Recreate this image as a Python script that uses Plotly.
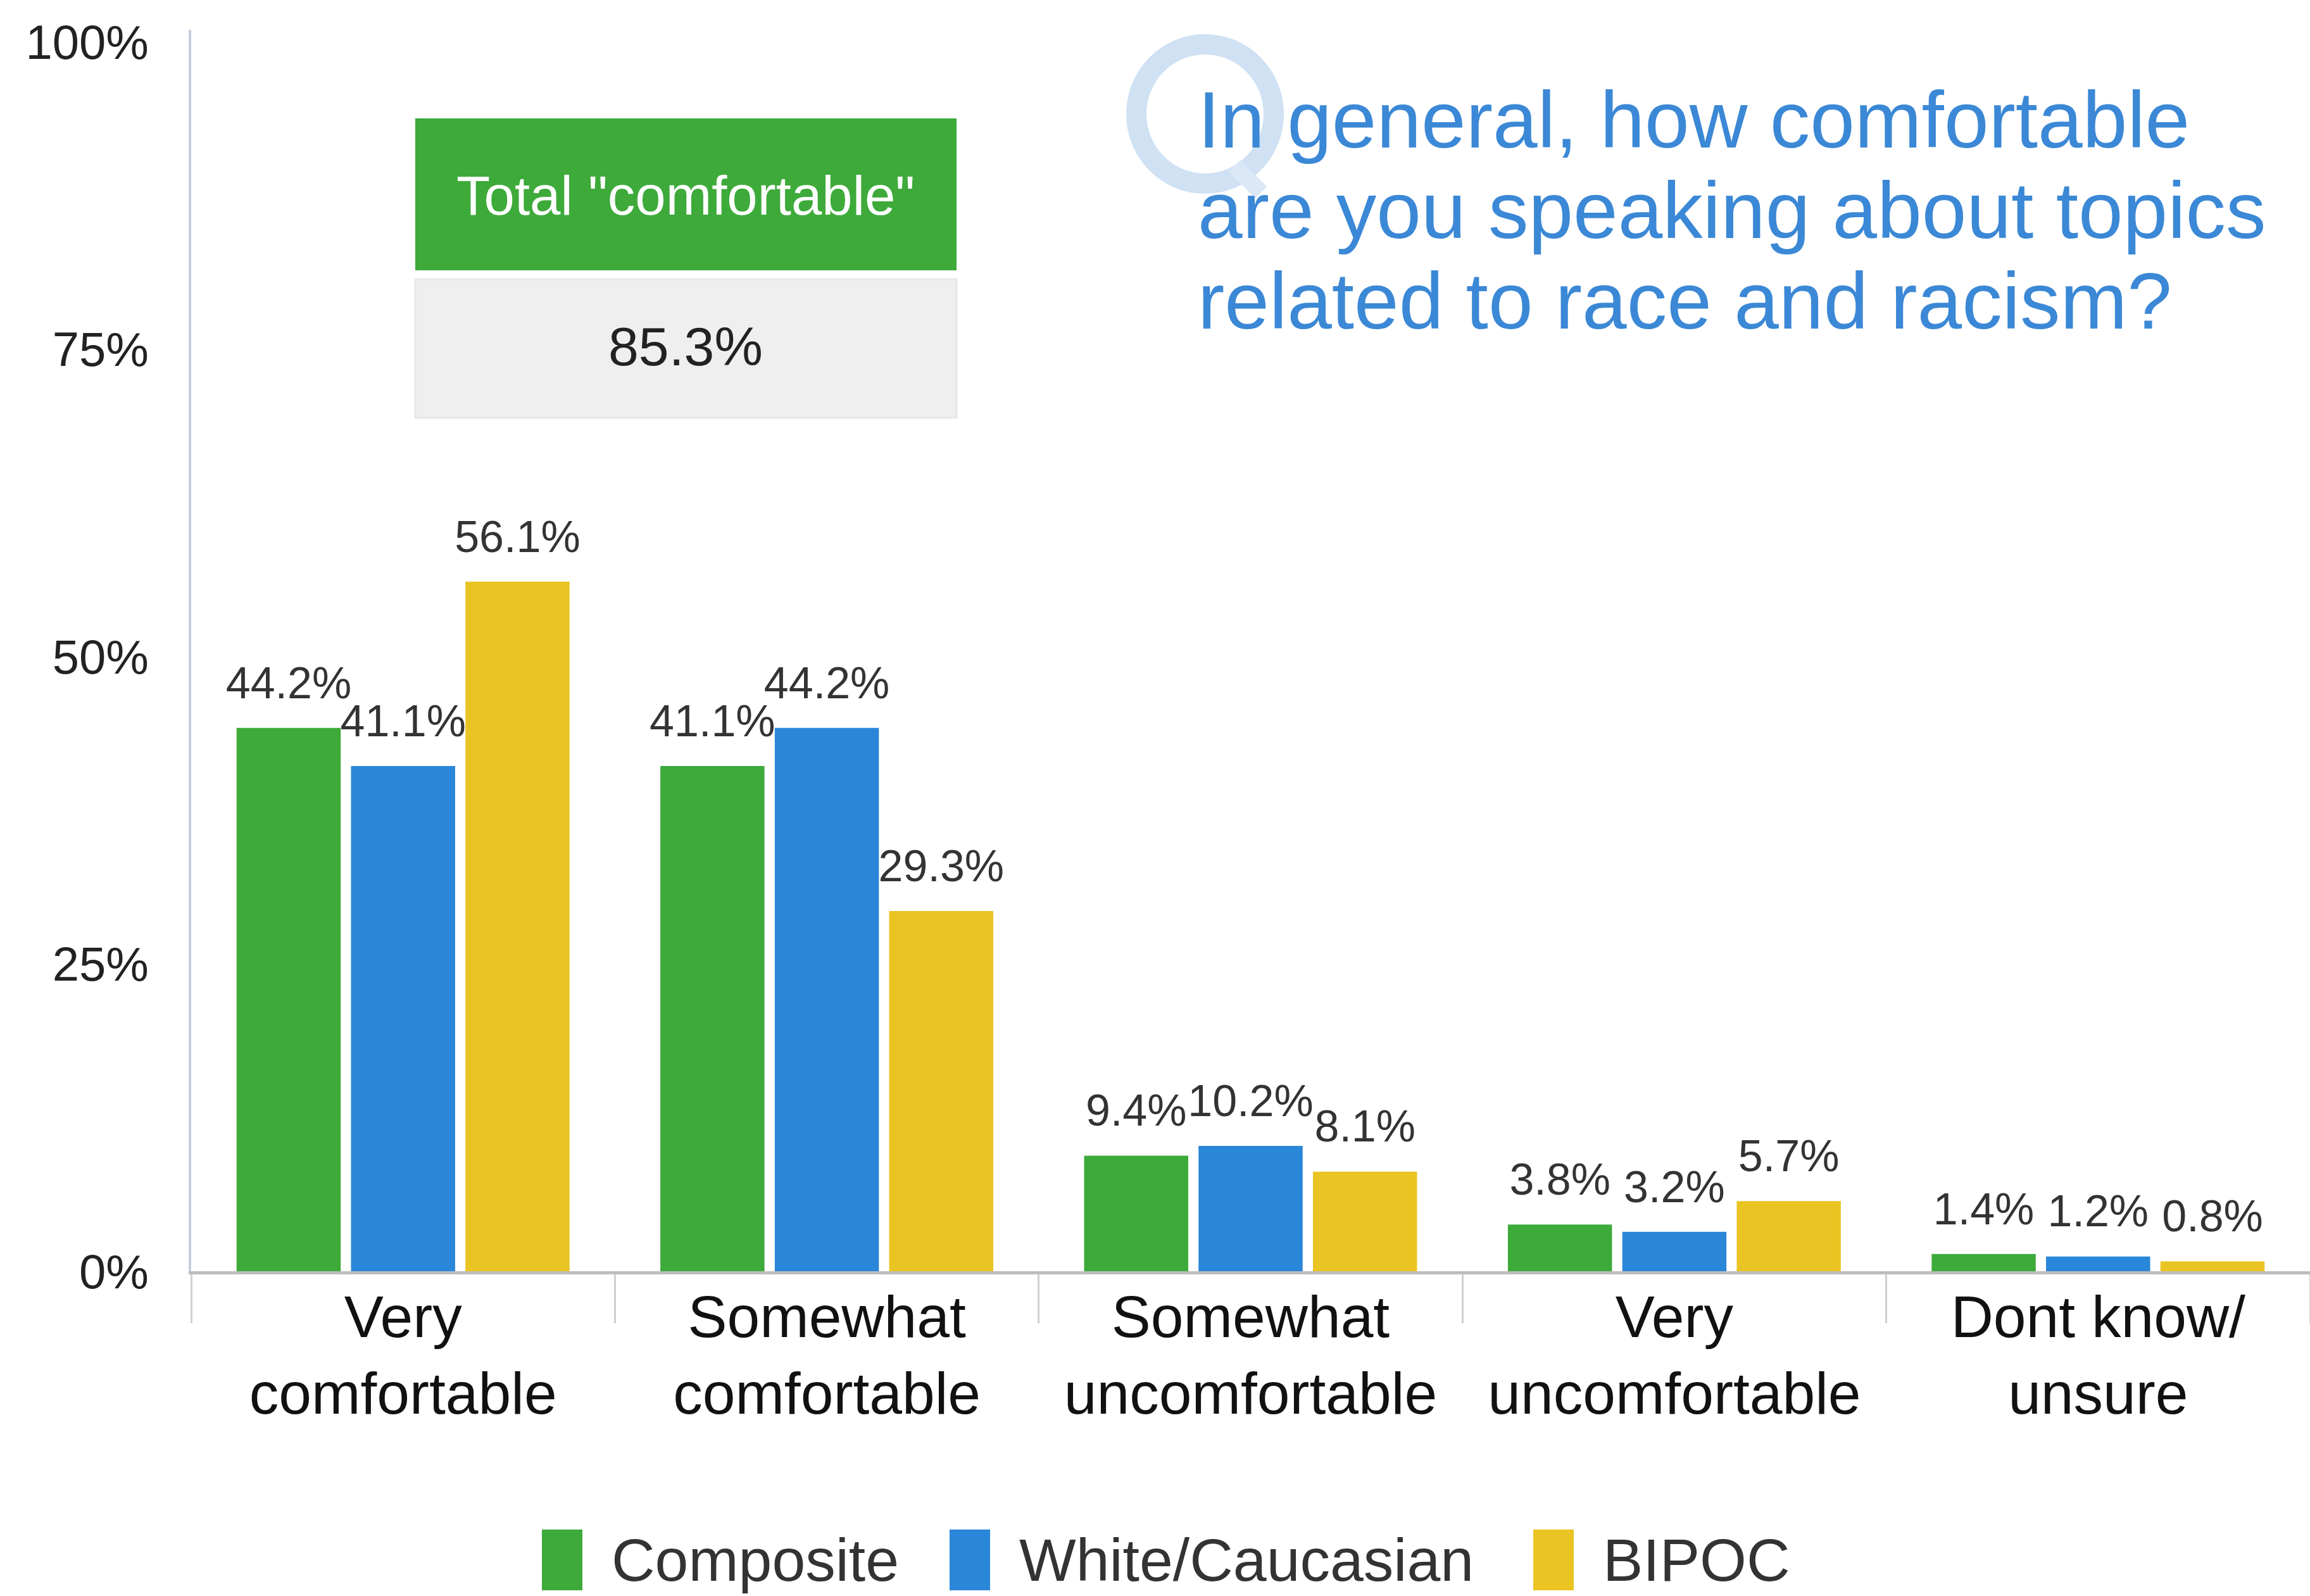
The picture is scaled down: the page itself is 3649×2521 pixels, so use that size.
import plotly.graph_objects as go

# ---- data -------------------------------------------------------------
categories = ["Very comfortable", "Somewhat comfortable", "Somewhat uncomfortable",
              "Very uncomfortable", "Dont know/ unsure"]
tick_labels = ["Very<br>comfortable", "Somewhat<br>comfortable", "Somewhat<br>uncomfortable",
               "Very<br>uncomfortable", "Dont know/<br>unsure"]
series_names = ["Composite", "White/Caucasian", "BIPOC"]
composite = [44.2, 41.1, 9.4, 3.8, 1.4]
white_caucasian = [41.1, 44.2, 10.2, 3.2, 1.2]
bipoc = [56.1, 29.3, 8.1, 5.7, 0.8]
y_tick_values = [0, 25, 50, 75, 100]
y_tick_labels = ["0%", "25%", "50%", "75%", "100%"]
question_lines = ["In general, how comfortable",
                  "are you speaking about topics",
                  "related to race and racism?"]
total_label = 'Total "comfortable"'

colors = ["#3daa3a", "#2a86d8", "#eac423"]
FONT = "Liberation Sans, Arial, sans-serif"
BARGAP = 0.19

# ---- page geometry (pixels) -------------------------------------------
W, H = 3649, 2521
L, R, T, B = 302, 0, 47, 513
plot_w = W - L - R
plot_h = H - T - B
base_y = H - B


def px_x(px):
    return (px - L) / plot_w


def px_y(py):
    return (base_y - py) / plot_h


fig = go.Figure()
all_series = [composite, white_caucasian, bipoc]
for name, vals, col in zip(series_names, all_series, colors):
    fig.add_trace(go.Bar(
        x=categories, y=vals, name=name, marker_color=col, marker_line_width=0,
        showlegend=False, hoverinfo="x+y+name",
    ))
# value labels, grouped the same way as the bars and lifted a little above them
for name, vals in zip(series_names, all_series):
    fig.add_trace(go.Scatter(
        x=categories, y=vals, name=name, mode="markers+text",
        marker=dict(size=46, opacity=0), texttemplate="%{y:.1f}%",
        textposition="top center", cliponaxis=False,
        textfont=dict(family=FONT, size=70, color="#333333"),
        showlegend=False, hoverinfo="skip",
    ))

shapes = []
annotations = []

# faint "Q" ring behind the question
q_color = "#cfe1f3"
shapes.append(dict(type="circle", xref="paper", yref="paper", layer="above",
                   x0=px_x(1795), x1=px_x(2012), y0=px_y(290), y1=px_y(70),
                   line=dict(color=q_color, width=32)))
shapes.append(dict(type="line", xref="paper", yref="paper", layer="above",
                   x0=px_x(1950), x1=px_x(1992), y0=px_y(262), y1=px_y(304),
                   line=dict(color="#dbe8f6", width=26)))
# question text
for i, line in enumerate(question_lines):
    annotations.append(dict(
        x=px_x(1890), y=px_y(189 + 143 * i), xref="paper", yref="paper", text=line,
        showarrow=False, xanchor="left", yanchor="middle", align="left",
        font=dict(family=FONT, size=127, color="#3b88d6"),
    ))

# total "comfortable" box
total_value = composite[0] + composite[1]
shapes.append(dict(type="rect", xref="paper", yref="paper",
                   x0=px_x(656), x1=px_x(1511), y0=px_y(427), y1=px_y(187),
                   fillcolor="#3daa3a", line=dict(width=0), layer="above"))
shapes.append(dict(type="rect", xref="paper", yref="paper",
                   x0=px_x(656), x1=px_x(1511), y0=px_y(660), y1=px_y(441),
                   fillcolor="#efefef", line=dict(color="#e8e8e8", width=3), layer="above"))
annotations.append(dict(
    x=px_x(1083), y=px_y(309), xref="paper", yref="paper", text=total_label,
    showarrow=False, xanchor="center", yanchor="middle",
    font=dict(family=FONT, size=87, color="#ffffff"),
))
annotations.append(dict(
    x=px_x(1083), y=px_y(547), xref="paper", yref="paper", text=f"{total_value:.1f}%",
    showarrow=False, xanchor="center", yanchor="middle",
    font=dict(family=FONT, size=86, color="#222222"),
))

# legend
legend_marker_x = [856, 1500, 2422]
for name, col, mx in zip(series_names, colors, legend_marker_x):
    shapes.append(dict(type="rect", xref="paper", yref="paper",
                       x0=px_x(mx), x1=px_x(mx + 64), y0=px_y(2512), y1=px_y(2416),
                       fillcolor=col, line=dict(width=0)))
    annotations.append(dict(
        x=px_x(mx + 108), y=px_y(2464), xref="paper", yref="paper", text=name,
        showarrow=False, xanchor="left", yanchor="middle",
        font=dict(family=FONT, size=95, color="#333333"),
    ))

fig.update_layout(
    width=W, height=H,
    margin=dict(l=L, r=R, t=T, b=B, pad=0),
    paper_bgcolor="white", plot_bgcolor="white",
    barmode="group", bargap=BARGAP, bargroupgap=0.09,
    scattermode="group", scattergap=BARGAP,
    shapes=shapes, annotations=annotations,
    showlegend=False,
    font=dict(family=FONT),
)
fig.update_xaxes(
    type="category", categoryorder="array", categoryarray=categories,
    tickvals=categories, ticktext=tick_labels,
    tickfont=dict(family=FONT, size=93, color="#111111"),
    showline=True, linecolor="#bdbdbd", linewidth=5,
    ticks="outside", tickson="boundaries", ticklen=77, tickwidth=3, tickcolor="#d0d0d0",
    ticklabelstandoff=-13, showgrid=False, zeroline=False,
)
fig.update_yaxes(
    range=[0, 101], tickvals=y_tick_values, ticktext=y_tick_labels,
    tickfont=dict(family=FONT, size=76, color="#222222"),
    showline=True, linecolor="#c5cede", linewidth=4, ticks="",
    ticklabelstandoff=48, showgrid=False, zeroline=False,
)

fig.write_html("out.html")
